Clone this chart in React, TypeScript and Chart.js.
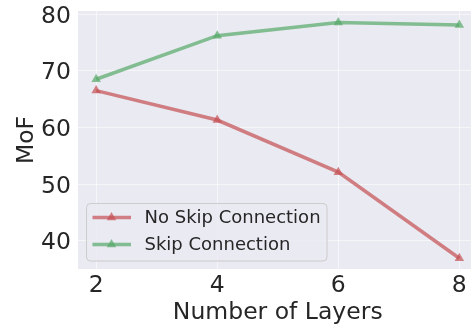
import React, { useEffect, useRef } from "react";
import { Chart, registerables } from "chart.js";

Chart.register(...registerables);

const layers = [2, 4, 6, 8];
const noSkip = [66.5, 61.3, 52.1, 36.9];
const skip = [68.5, 76.2, 78.5, 78.1];
const xTicks = [2, 4, 6, 8];
const yTicks = [40, 50, 60, 70, 80];
const seriesNames = ["No Skip Connection", "Skip Connection"];

const RED = "rgba(196,78,82,0.7)";
const GREEN = "rgba(85,168,104,0.7)";
const FONT = "'DejaVu Sans', sans-serif";
const TEXT = "#262626";
const GRID = "rgba(255,255,255,0.55)";

export default function App() {
  const ref = useRef<HTMLCanvasElement | null>(null);

  useEffect(() => {
    const canvas = ref.current;
    if (!canvas) return;

    const bgPlugin = {
      id: "bg",
      beforeDraw(chart: any) {
        const { ctx, chartArea } = chart;
        ctx.save();
        ctx.fillStyle = "#ffffff";
        ctx.fillRect(0, 0, chart.width, chart.height);
        ctx.fillStyle = "#EAEAF2";
        ctx.fillRect(chartArea.left, chartArea.top, chartArea.right - chartArea.left, chartArea.bottom - chartArea.top);
        ctx.restore();
      },
    };

    const legendPlugin = {
      id: "customLegend",
      afterDraw(chart: any) {
        const { ctx } = chart;
        const x0 = 86.5, y0 = 203.5, w = 240.5, h = 57.5, r = 4;
        ctx.save();
        ctx.beginPath();
        ctx.moveTo(x0 + r, y0);
        ctx.lineTo(x0 + w - r, y0);
        ctx.quadraticCurveTo(x0 + w, y0, x0 + w, y0 + r);
        ctx.lineTo(x0 + w, y0 + h - r);
        ctx.quadraticCurveTo(x0 + w, y0 + h, x0 + w - r, y0 + h);
        ctx.lineTo(x0 + r, y0 + h);
        ctx.quadraticCurveTo(x0, y0 + h, x0, y0 + h - r);
        ctx.lineTo(x0, y0 + r);
        ctx.quadraticCurveTo(x0, y0, x0 + r, y0);
        ctx.closePath();
        ctx.fillStyle = "rgba(234,234,242,0.8)";
        ctx.fill();
        ctx.strokeStyle = "#cccccc";
        ctx.lineWidth = 1;
        ctx.stroke();

        const colors = [RED, GREEN];
        const rows = [217.5, 244.5];
        seriesNames.forEach((name, i) => {
          const y = rows[i];
          ctx.strokeStyle = colors[i];
          ctx.lineWidth = 3.5;
          ctx.beginPath();
          ctx.moveTo(92.5, y);
          ctx.lineTo(131, y);
          ctx.stroke();
          const rad = 5.5;
          const cx = 111.5;
          ctx.fillStyle = colors[i];
          ctx.beginPath();
          ctx.moveTo(cx, y - rad);
          ctx.lineTo(cx + rad * Math.sin((2 * Math.PI) / 3), y - rad * Math.cos((2 * Math.PI) / 3));
          ctx.lineTo(cx + rad * Math.sin((4 * Math.PI) / 3), y - rad * Math.cos((4 * Math.PI) / 3));
          ctx.closePath();
          ctx.fill();
          ctx.fillStyle = TEXT;
          ctx.font = `18px ${FONT}`;
          ctx.textBaseline = "middle";
          ctx.textAlign = "left";
          ctx.fillText(name, 144.5, y + 0.5);
        });
        ctx.restore();
      },
    };

    const zeroPad = (scale: any) => {
      scale.paddingTop = 0;
      scale.paddingBottom = 0;
      scale.paddingLeft = 0;
      scale.paddingRight = 0;
    };

    const chart = new Chart(canvas, {
      type: "line",
      data: {
        datasets: [
          {
            label: seriesNames[0],
            data: layers.map((x, i) => ({ x, y: noSkip[i] })),
            borderColor: RED,
            backgroundColor: RED,
            pointBackgroundColor: RED,
            pointBorderWidth: 0,
            borderWidth: 3.5,
            pointStyle: "triangle",
            pointRadius: 5.5,
            tension: 0,
          },
          {
            label: seriesNames[1],
            data: layers.map((x, i) => ({ x, y: skip[i] })),
            borderColor: GREEN,
            backgroundColor: GREEN,
            pointBackgroundColor: GREEN,
            pointBorderWidth: 0,
            borderWidth: 3.5,
            pointStyle: "triangle",
            pointRadius: 5.5,
            tension: 0,
          },
        ],
      },
      options: {
        animation: false,
        responsive: false,
        devicePixelRatio: 1,
        layout: { padding: { left: 0, top: 11, right: 12.5, bottom: 0 } },
        plugins: { legend: { display: false }, tooltip: { enabled: false } },
        scales: {
          x: {
            type: "linear",
            min: 1.7,
            max: 8.3,
            afterBuildTicks: (scale: any) => {
              scale.ticks = xTicks.map((v) => ({ value: v }));
            },
            afterFit: (scale: any) => {
              scale.height = 58;
              zeroPad(scale);
            },
            border: { display: false },
            grid: { color: GRID, lineWidth: 1, drawTicks: false },
            ticks: {
              color: TEXT,
              font: { family: FONT, size: 23.5 },
              padding: 3,
              maxRotation: 0,
              autoSkip: false,
            },
            title: {
              display: true,
              text: "Number of Layers",
              color: TEXT,
              font: { family: FONT, size: 23.5 },
              padding: { top: 0, bottom: 0.5 },
            },
          },
          y: {
            type: "linear",
            min: 35.0,
            max: 80.55,
            afterBuildTicks: (scale: any) => {
              scale.ticks = yTicks.map((v) => ({ value: v }));
            },
            afterFit: (scale: any) => {
              scale.width = 78;
              zeroPad(scale);
            },
            border: { display: false },
            grid: { color: GRID, lineWidth: 1, drawTicks: false },
            ticks: {
              color: TEXT,
              font: { family: FONT, size: 23.5 },
              padding: 7,
              labelOffset: 2.5,
              autoSkip: false,
            },
            title: {
              display: true,
              text: "MoF",
              color: TEXT,
              font: { family: FONT, size: 23.5 },
              padding: { top: 13, bottom: 0 },
            },
          },
        },
      },
      plugins: [bgPlugin, legendPlugin],
    });

    return () => chart.destroy();
  }, []);

  return (
    <div style={{ position: "fixed", left: 0, top: 0, width: 471, height: 327, overflow: "hidden", background: "#fff" }}>
      <canvas ref={ref} width={490} height={327} style={{ display: "block" }} />
    </div>
  );
}
